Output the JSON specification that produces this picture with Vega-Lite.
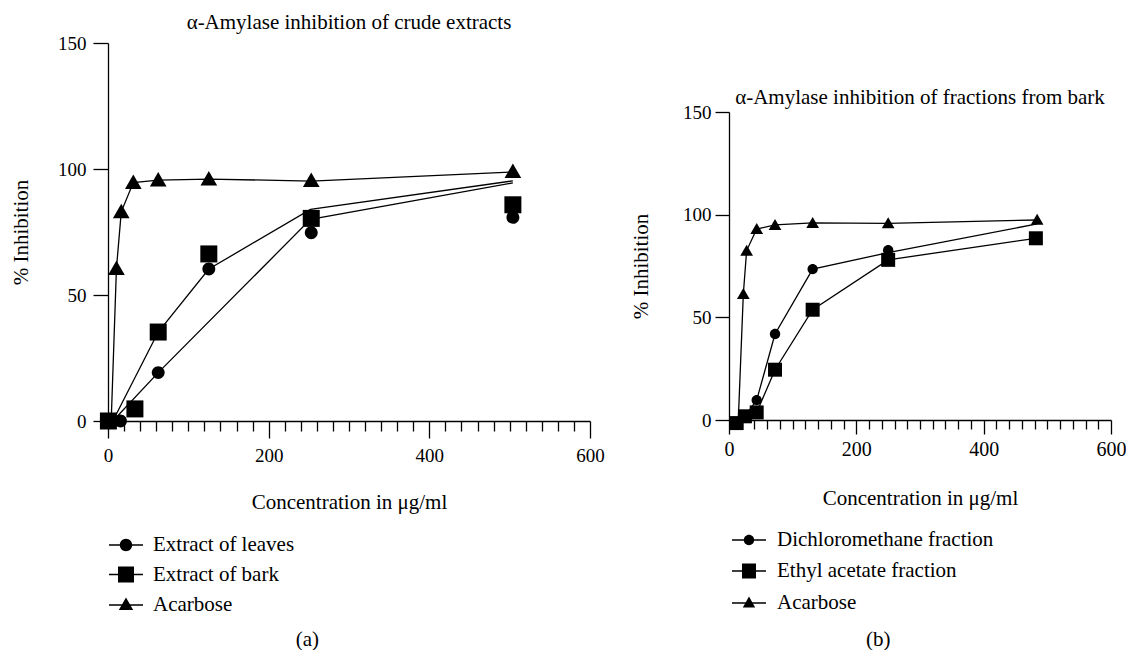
{
  "$schema": "https://vega.github.io/schema/vega-lite/v6.json",
  "background": "white",
  "padding": {"left": 10, "top": 12, "right": 0, "bottom": 0},
  "config": {
    "font": "Liberation Serif",
    "view": {"stroke": null},
    "axis": {"labelFont": "Liberation Serif", "titleFont": "Liberation Serif", "labelColor": "black", "titleColor": "black", "domainColor": "black", "tickColor": "black", "grid": false, "titleFontWeight": "normal", "labelFontSize": 19, "titleFontSize": 21, "domainWidth": 1.3, "tickWidth": 1.3},
    "title": {"font": "Liberation Serif", "fontSize": 21, "fontWeight": "normal", "color": "black"},
    "legend": {"labelFont": "Liberation Serif", "labelFontSize": 21, "labelColor": "black", "labelLimit": 0}
  },
  "datasets": {
    "pa": [
      {"s": "Extract of leaves", "x": 15.5, "y": 0},
      {"s": "Extract of leaves", "x": 62.5, "y": 19.2},
      {"s": "Extract of leaves", "x": 125.5, "y": 60.3},
      {"s": "Extract of leaves", "x": 253, "y": 74.7},
      {"s": "Extract of leaves", "x": 504, "y": 80.8},
      {"s": "Extract of bark", "x": 0.5, "y": 0},
      {"s": "Extract of bark", "x": 33.5, "y": 4.8},
      {"s": "Extract of bark", "x": 62.5, "y": 35.3},
      {"s": "Extract of bark", "x": 125.5, "y": 66.3},
      {"s": "Extract of bark", "x": 253, "y": 80.4},
      {"s": "Extract of bark", "x": 504, "y": 85.8},
      {"s": "Acarbose", "x": 10.5, "y": 60.5},
      {"s": "Acarbose", "x": 16.5, "y": 83},
      {"s": "Acarbose", "x": 31.5, "y": 94.6},
      {"s": "Acarbose", "x": 62.5, "y": 95.6},
      {"s": "Acarbose", "x": 125.5, "y": 96},
      {"s": "Acarbose", "x": 253, "y": 95.4},
      {"s": "Acarbose", "x": 504, "y": 99}
    ],
    "la": [
      {"s": "Acarbose", "x": 4, "y": 0},
      {"s": "Acarbose", "x": 10.5, "y": 60.5},
      {"s": "Acarbose", "x": 16.5, "y": 83},
      {"s": "Acarbose", "x": 31.5, "y": 94.6},
      {"s": "Acarbose", "x": 62.5, "y": 95.6},
      {"s": "Acarbose", "x": 125.5, "y": 96},
      {"s": "Acarbose", "x": 253, "y": 95.2},
      {"s": "Acarbose", "x": 504, "y": 98.8},
      {"s": "Extract of bark", "x": 6, "y": 0},
      {"s": "Extract of bark", "x": 62.5, "y": 35.3},
      {"s": "Extract of bark", "x": 125.5, "y": 60.3},
      {"s": "Extract of bark", "x": 252, "y": 84},
      {"s": "Extract of bark", "x": 504, "y": 95.3},
      {"s": "Extract of leaves", "x": 6, "y": 0},
      {"s": "Extract of leaves", "x": 62.5, "y": 19.2},
      {"s": "Extract of leaves", "x": 252, "y": 80},
      {"s": "Extract of leaves", "x": 504, "y": 94.5}
    ],
    "pb": [
      {"s": "Dichloromethane fraction", "x": 43.5, "y": 9.7},
      {"s": "Dichloromethane fraction", "x": 72.3, "y": 41.9},
      {"s": "Dichloromethane fraction", "x": 131.4, "y": 73.5},
      {"s": "Dichloromethane fraction", "x": 250, "y": 82.7},
      {"s": "Ethyl acetate fraction", "x": 12, "y": -1.5},
      {"s": "Ethyl acetate fraction", "x": 25, "y": 1.8},
      {"s": "Ethyl acetate fraction", "x": 43.5, "y": 3.7},
      {"s": "Ethyl acetate fraction", "x": 72.3, "y": 24.5},
      {"s": "Ethyl acetate fraction", "x": 131.4, "y": 53.7},
      {"s": "Ethyl acetate fraction", "x": 250, "y": 78},
      {"s": "Ethyl acetate fraction", "x": 482, "y": 88.5},
      {"s": "Acarbose", "x": 22.5, "y": 61.4},
      {"s": "Acarbose", "x": 27.7, "y": 82.5},
      {"s": "Acarbose", "x": 43.5, "y": 93},
      {"s": "Acarbose", "x": 72.3, "y": 95},
      {"s": "Acarbose", "x": 131.4, "y": 96},
      {"s": "Acarbose", "x": 250, "y": 95.8},
      {"s": "Acarbose", "x": 484, "y": 97.6}
    ],
    "lb": [
      {"s": "Acarbose", "x": 14.6, "y": 0},
      {"s": "Acarbose", "x": 22.5, "y": 61.4},
      {"s": "Acarbose", "x": 27.7, "y": 82.5},
      {"s": "Acarbose", "x": 43.5, "y": 93},
      {"s": "Acarbose", "x": 72.3, "y": 95},
      {"s": "Acarbose", "x": 131.4, "y": 96},
      {"s": "Acarbose", "x": 250, "y": 95.8},
      {"s": "Acarbose", "x": 484, "y": 97.4},
      {"s": "Dichloromethane fraction", "x": 25, "y": 1.8},
      {"s": "Dichloromethane fraction", "x": 43.5, "y": 9.7},
      {"s": "Dichloromethane fraction", "x": 72.3, "y": 41.9},
      {"s": "Dichloromethane fraction", "x": 131.4, "y": 73.5},
      {"s": "Dichloromethane fraction", "x": 250, "y": 81.5},
      {"s": "Dichloromethane fraction", "x": 484, "y": 95.5},
      {"s": "Ethyl acetate fraction", "x": 12, "y": -1.5},
      {"s": "Ethyl acetate fraction", "x": 25, "y": 1.8},
      {"s": "Ethyl acetate fraction", "x": 43.5, "y": 3.7},
      {"s": "Ethyl acetate fraction", "x": 72.3, "y": 24.5},
      {"s": "Ethyl acetate fraction", "x": 131.4, "y": 53.7},
      {"s": "Ethyl acetate fraction", "x": 250, "y": 78},
      {"s": "Ethyl acetate fraction", "x": 482, "y": 88.5}
    ]
  },
  "resolve": {"scale": {"x": "independent", "y": "independent", "shape": "independent"}, "legend": {"shape": "independent"}},
  "spacing": 25,
  "hconcat": [
    {
      "title": {"text": "(a)", "orient": "bottom", "frame": "bounds", "anchor": "middle", "offset": 14},
      "resolve": {"legend": {"shape": "independent"}, "scale": {"shape": "independent"}},
      "vconcat": [
        {
          "width": 482,
          "height": 378,
          "title": {"text": "α-Amylase inhibition of crude extracts", "offset": 1, "anchor": "middle"},
          "resolve": {"axis": {"x": "independent"}, "scale": {"shape": "independent"}, "legend": {"shape": "independent"}},
          "layer": [
            {
              "data": {"name": "la"},
              "mark": {"type": "line", "color": "black", "strokeWidth": 1.3},
              "encoding": {
                "x": {"field": "x", "type": "quantitative", "scale": {"domain": [0, 600], "nice": false},
                  "axis": {"orient": "bottom", "values": [0, 200, 400, 600], "tickSize": 17,
                    "labelPadding": 8, "labelOverlap": false, "labelFlush": false,
                    "title": "Concentration in μg/ml", "titlePadding": 26}},
                "y": {"field": "y", "type": "quantitative", "scale": {"domain": [0, 150], "nice": false},
                  "axis": {"values": [0, 50, 100, 150], "tickSize": 15, "labelPadding": 7, "title": "% Inhibition", "titlePadding": 26}},
                "detail": {"field": "s"}
              }
            },
            {
              "data": {"name": "pa"},
              "mark": {"type": "point", "filled": true, "color": "black", "opacity": 1, "size": 289},
              "encoding": {
                "x": {"field": "x", "type": "quantitative",
                  "axis": {"orient": "bottom", "values": [20,40,60,80,100,120,140,160,180,220,240,260,280,300,320,340,360,380,420,440,460,480,500,520,540,560,580],
                    "tickSize": 10, "labels": false, "domain": false, "title": null}},
                "y": {"field": "y", "type": "quantitative"},
                "shape": {"field": "s", "type": "nominal",
                  "scale": {"domain": ["Extract of leaves", "Extract of bark", "Acarbose"],
                    "range": ["M-0.76,0A0.76,0.76 0 1,0 0.76,0A0.76,0.76 0 1,0 -0.76,0Z", "M-1,-1H1V1H-1Z", "M0,-0.95L0.98,0.75H-0.98Z"]},
                  "legend": null}
              }
            },
            {
              "data": {"values": []},
              "mark": {"type": "point", "filled": true, "color": "black", "opacity": 1, "size": 400},
              "encoding": {
                "shape": {"field": "s", "type": "nominal",
                  "scale": {"domain": ["Extract of leaves", "Extract of bark", "Acarbose"],
                    "range": ["M-1.7,-0.08H1.7V0.08H-1.7ZM-0.62,0A0.62,0.62 0 1,1 0.62,0A0.62,0.62 0 1,1 -0.62,0Z", "M-1.7,-0.08H1.7V0.08H-1.7ZM-0.8,-0.8H0.8V0.8H-0.8Z", "M-1.7,-0.08H1.7V0.08H-1.7ZM0,-0.75L0.72,0.5H-0.72Z"]},
                  "legend": {"orient": "none", "legendX": 7, "legendY": 491, "title": null, "symbolSize": 400, "labelOffset": 16, "rowPadding": 8.5, "symbolOpacity": 1}}
              }
            }
          ]
        }
      ]
    },
    {
      "title": {"text": "(b)", "orient": "bottom", "frame": "bounds", "anchor": "middle", "offset": 16},
      "resolve": {"legend": {"shape": "independent"}, "scale": {"shape": "independent"}},
      "spacing": 0,
      "vconcat": [
        {"width": 1, "height": 44, "data": {"values": [{"s": 0}]}, "mark": {"type": "point", "opacity": 0}, "encoding": {}},
        {
          "width": 382,
          "height": 308,
          "title": {"text": "α-Amylase inhibition of fractions from bark", "offset": -5, "anchor": "middle"},
          "resolve": {"axis": {"x": "independent"}, "scale": {"shape": "independent"}, "legend": {"shape": "independent"}},
          "layer": [
            {
              "data": {"name": "lb"},
              "mark": {"type": "line", "color": "black", "strokeWidth": 1.3},
              "encoding": {
                "x": {"field": "x", "type": "quantitative", "scale": {"domain": [0, 600], "nice": false},
                  "axis": {"orient": "bottom", "values": [0, 200, 400, 600], "tickSize": 14,
                    "labelPadding": 5, "labelOverlap": false, "labelFlush": false, "labelFontSize": 20,
                    "title": "Concentration in μg/ml", "titlePadding": 28}},
                "y": {"field": "y", "type": "quantitative", "scale": {"domain": [0, 150], "nice": false},
                  "axis": {"values": [0, 50, 100, 150], "tickSize": 14, "labelPadding": 4, "title": "% Inhibition", "titlePadding": 31}},
                "detail": {"field": "s"}
              }
            },
            {
              "data": {"name": "pb"},
              "mark": {"type": "point", "filled": true, "color": "black", "opacity": 1, "size": 196},
              "encoding": {
                "x": {"field": "x", "type": "quantitative",
                  "axis": {"orient": "bottom", "values": [20,40,60,80,100,120,140,160,180,220,240,260,280,300,320,340,360,380,420,440,460,480,500,520,540,560,580],
                    "tickSize": 9, "labels": false, "domain": false, "title": null}},
                "y": {"field": "y", "type": "quantitative"},
                "shape": {"field": "s", "type": "nominal",
                  "scale": {"domain": ["Dichloromethane fraction", "Ethyl acetate fraction", "Acarbose"],
                    "range": ["M-0.74,0A0.74,0.74 0 1,0 0.74,0A0.74,0.74 0 1,0 -0.74,0Z", "M-1,-1H1V1H-1Z", "M0,-0.85L0.91,0.72H-0.91Z"]},
                  "legend": null}
              }
            },
            {
              "data": {"values": []},
              "mark": {"type": "point", "filled": true, "color": "black", "opacity": 1, "size": 400},
              "encoding": {
                "shape": {"field": "s", "type": "nominal",
                  "scale": {"domain": ["Dichloromethane fraction", "Ethyl acetate fraction", "Acarbose"],
                    "range": ["M-1.7,-0.08H1.7V0.08H-1.7ZM-0.52,0A0.52,0.52 0 1,1 0.52,0A0.52,0.52 0 1,1 -0.52,0Z", "M-1.7,-0.08H1.7V0.08H-1.7ZM-0.7,-0.75H0.7V0.75H-0.7Z", "M-1.7,-0.08H1.7V0.08H-1.7ZM0,-0.65L0.62,0.45H-0.62Z"]},
                  "legend": {"orient": "none", "legendX": 9, "legendY": 417, "title": null, "symbolSize": 400, "labelOffset": 17, "rowPadding": 10, "symbolOpacity": 1}}
              }
            }
          ]
        }
      ]
    }
  ]
}
